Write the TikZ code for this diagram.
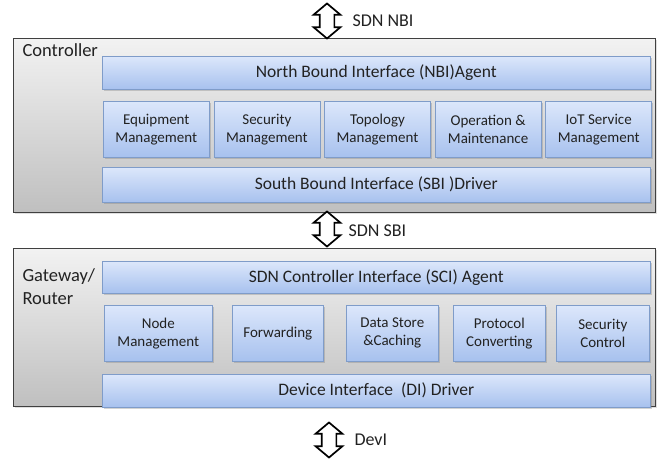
\documentclass[tikz,border=0pt]{standalone}
\usepackage{fontspec}
\setmainfont{Carlito}
\usetikzlibrary{positioning,shapes.arrows,shadows}

\definecolor{boxtop}{HTML}{DCE7FB}
\definecolor{boxbot}{HTML}{A7C1EE}
\definecolor{boxline}{HTML}{7F9CC9}
\definecolor{txt}{HTML}{222222}

\begin{document}
\begin{tikzpicture}[x=1pt,y=-1pt,every node/.style={text=txt},
    layer/.style={anchor=north west,draw=black!75,line width=0.8pt,
        top color=black!5,bottom color=black!25,inner sep=0pt,
        drop shadow={opacity=0.25,shadow xshift=1.5pt,shadow yshift=-1.5pt}},
    bar/.style={anchor=north west,draw=boxline,line width=0.6pt,
        top color=boxtop,bottom color=boxbot,inner sep=0pt,
        minimum width=548pt,font=\fontsize{17.5}{20}\selectfont,
        drop shadow={opacity=0.35,shadow xshift=1.5pt,shadow yshift=-1.5pt}},
    module/.style={bar,minimum width=106pt,minimum height=56pt,align=center,
        font=\fontsize{15}{18}\selectfont},
    link/.style={double arrow,draw=black,line width=1.7pt,fill=white,
        rotate=90,inner xsep=0pt,inner ysep=6.5pt,minimum height=35pt,
        double arrow head extend=6pt,double arrow tip angle=100},
    linklabel/.style={anchor=west,font=\fontsize{18}{21}\selectfont},
    tag/.style={anchor=north west,align=left,font=\fontsize{18.5}{23}\selectfont}]

    \useasboundingbox (0,0) rectangle (657,462);

    % controller
    \node[layer,minimum width=642pt,minimum height=174pt] (ctrl) at (13,38) {};
    \node[tag] (ctrltag) at (19,40) {Controller};
    \node[bar,minimum height=33pt] (nbi) at (102,56) {North Bound Interface (NBI)Agent};
    \node[module] (equip) at (103,101) {Equipment\\Management};
    \node[module,right=4pt of equip] (secmgmt) {Security\\Management};
    \node[module,right=4pt of secmgmt] (topo) {Topology\\Management};
    \node[module,right=4pt of topo] (oam) {Operation \&\\Maintenance};
    \node[module,right=4pt of oam] (iot) {IoT Service\\Management};
    \node[bar,minimum height=35pt] (sbi) at (102,167) {South Bound Interface (SBI )Driver};

    % gateway / router
    \node[layer,minimum width=642pt,minimum height=158pt] (gw) at (13,248) {};
    \node[tag] (gwtag) at (19,265) {Gateway/\\Router};
    \node[bar,minimum height=32pt] (sci) at (102,261) {SDN Controller Interface (SCI) Agent};
    \node[module,minimum width=108pt] (nodemgmt) at (104,305) {Node\\Management};
    \node[module,minimum width=91pt] (fwd) at (232,305) {Forwarding};
    \node[module,minimum width=92pt] (store) at (346,305) {Data Store\\\&Caching};
    \node[module,minimum width=92pt] (proto) at (453,305) {Protocol\\Converting};
    \node[module,minimum width=93pt] (secctl) at (556,305) {Security\\Control};
    \node[bar,minimum height=33pt] (di) at (102,374) {Device Interface\ \ (DI) Driver};

    % interfaces between layers
    \node[link] (nbilink) at (327,21) {};
    \node[linklabel] (nbitext) at ([xshift=22pt]nbilink.center) {SDN NBI};
    \node[link] (sbilink) at (327,229) {};
    \node[linklabel] (sbitext) at ([xshift=18pt,yshift=-2pt]sbilink.center) {SDN SBI};
    \node[link] (devlink) at (329,440) {};
    \node[linklabel] (devtext) at ([xshift=22pt]devlink.center) {DevI};

\end{tikzpicture}
\end{document}
